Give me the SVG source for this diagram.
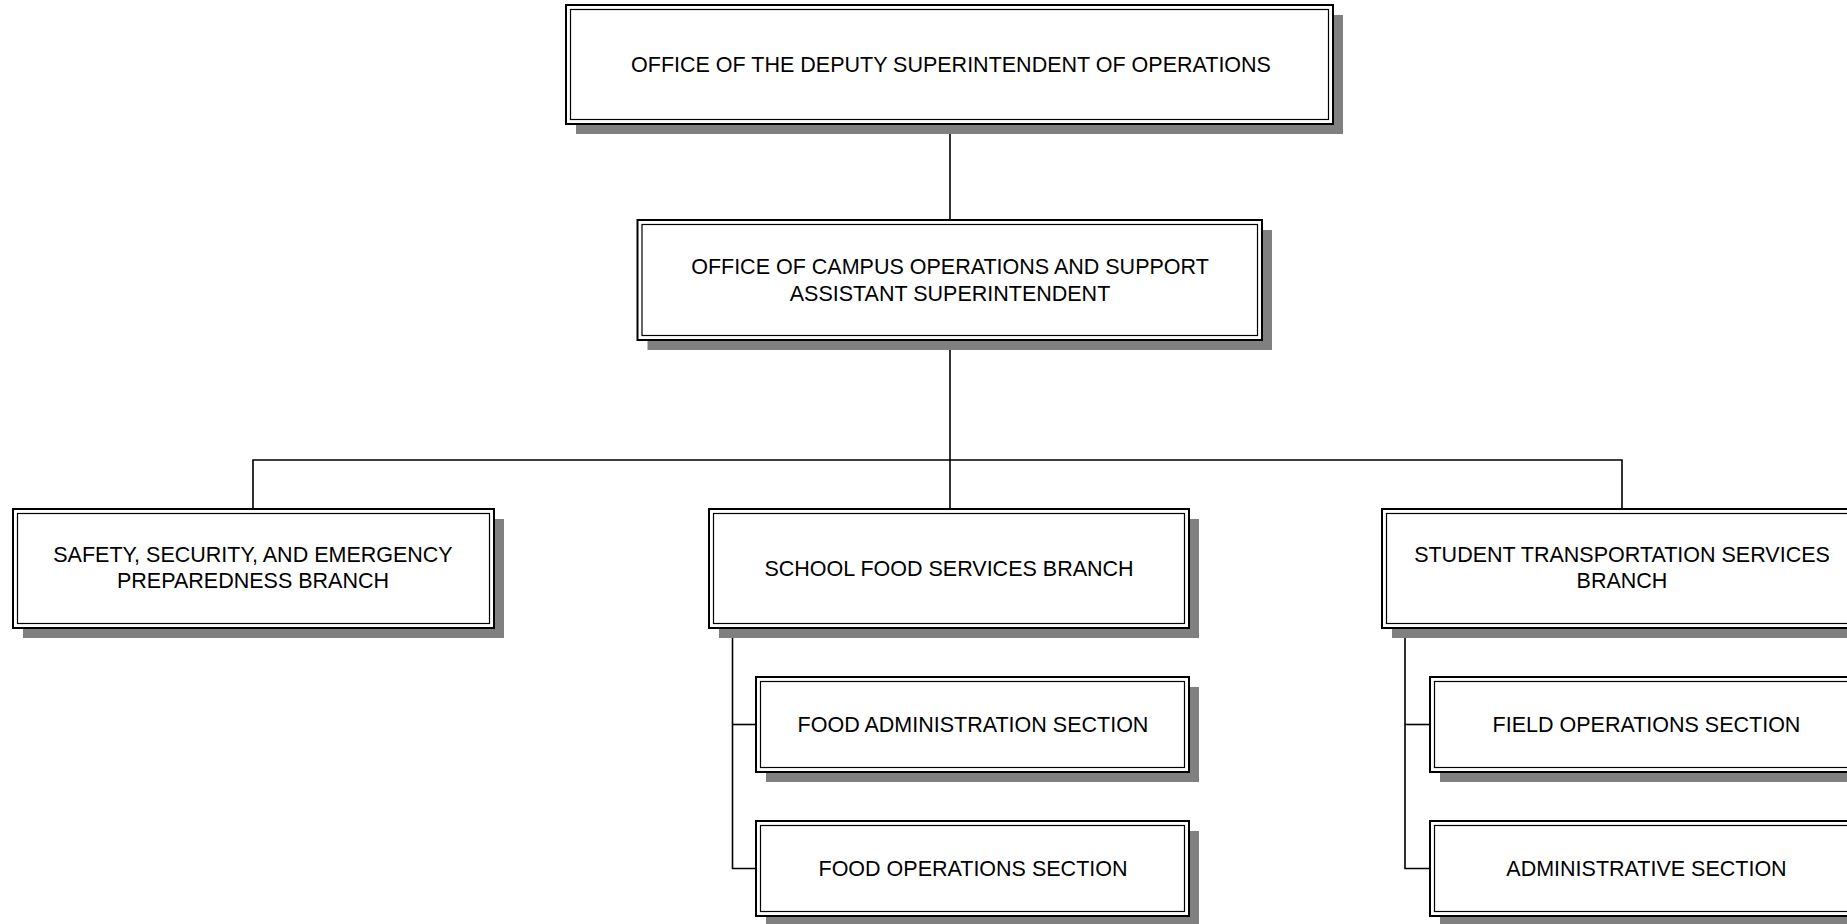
<svg xmlns="http://www.w3.org/2000/svg" width="1847" height="924" viewBox="0 0 1847 924">
<style>
.sh{fill:#808080;stroke:none}
.o{fill:#fff;stroke:#000;stroke-width:2}
.i{fill:none;stroke:#000;stroke-width:1.2}
.t{font-family:"Liberation Sans",Arial,sans-serif;font-size:21.5px;fill:#000;text-anchor:middle}
.c{fill:none;stroke:#000;stroke-width:1.6}
</style>
<rect width="1847" height="924" fill="#fff"/>
<g id="connectors">
<line class="c" x1="950" y1="124" x2="950" y2="220"/>
<line class="c" x1="950" y1="340" x2="950" y2="509"/>
<polyline class="c" points="253,509 253,460 1622,460 1622,509"/>
<polyline class="c" points="732.5,628 732.5,868.5 756,868.5"/>
<line class="c" x1="732.5" y1="724.5" x2="756" y2="724.5"/>
<polyline class="c" points="1405,628 1405,868.5 1430,868.5"/>
<line class="c" x1="1405" y1="724.5" x2="1430" y2="724.5"/>
</g>
<g id="n1">
<rect class="sh" x="576" y="15" width="767" height="119"/>
<rect class="o" x="566" y="5" width="767" height="119"/>
<rect class="i" x="570.5" y="9.5" width="758" height="110"/>
<text class="t" x="951" y="72">OFFICE OF THE DEPUTY SUPERINTENDENT OF OPERATIONS</text>
</g>
<g id="n2">
<rect class="sh" x="647.5" y="230" width="624.5" height="120"/>
<rect class="o" x="637.5" y="220" width="624.5" height="120"/>
<rect class="i" x="642" y="224.5" width="615.5" height="111"/>
<text class="t" x="950" y="274">OFFICE OF CAMPUS OPERATIONS AND SUPPORT</text>
<text class="t" x="950" y="301">ASSISTANT SUPERINTENDENT</text>
</g>
<g id="n3">
<rect class="sh" x="23" y="519" width="481" height="119"/>
<rect class="o" x="13" y="509" width="481" height="119"/>
<rect class="i" x="17.5" y="513.5" width="472" height="110"/>
<text class="t" x="253" y="562">SAFETY, SECURITY, AND EMERGENCY</text>
<text class="t" x="253" y="588">PREPAREDNESS BRANCH</text>
</g>
<g id="n4">
<rect class="sh" x="719" y="519" width="480" height="119"/>
<rect class="o" x="709" y="509" width="480" height="119"/>
<rect class="i" x="713.5" y="513.5" width="471" height="110"/>
<text class="t" x="949" y="575.5">SCHOOL FOOD SERVICES BRANCH</text>
</g>
<g id="n5">
<rect class="sh" x="1392" y="519" width="480" height="119"/>
<rect class="o" x="1382" y="509" width="480" height="119"/>
<rect class="i" x="1386.5" y="513.5" width="471" height="110"/>
<text class="t" x="1622" y="562">STUDENT TRANSPORTATION SERVICES</text>
<text class="t" x="1622" y="588">BRANCH</text>
</g>
<g id="n6">
<rect class="sh" x="766" y="687" width="433" height="95"/>
<rect class="o" x="756" y="677" width="433" height="95"/>
<rect class="i" x="760.5" y="681.5" width="424" height="86"/>
<text class="t" x="973" y="732">FOOD ADMINISTRATION SECTION</text>
</g>
<g id="n7">
<rect class="sh" x="766" y="831" width="433" height="95"/>
<rect class="o" x="756" y="821" width="433" height="95"/>
<rect class="i" x="760.5" y="825.5" width="424" height="86"/>
<text class="t" x="973" y="876">FOOD OPERATIONS SECTION</text>
</g>
<g id="n8">
<rect class="sh" x="1440" y="687" width="433" height="95"/>
<rect class="o" x="1430" y="677" width="433" height="95"/>
<rect class="i" x="1434.5" y="681.5" width="424" height="86"/>
<text class="t" x="1646.5" y="732">FIELD OPERATIONS SECTION</text>
</g>
<g id="n9">
<rect class="sh" x="1440" y="831" width="433" height="95"/>
<rect class="o" x="1430" y="821" width="433" height="95"/>
<rect class="i" x="1434.5" y="825.5" width="424" height="86"/>
<text class="t" x="1646.5" y="876">ADMINISTRATIVE SECTION</text>
</g>
</svg>
